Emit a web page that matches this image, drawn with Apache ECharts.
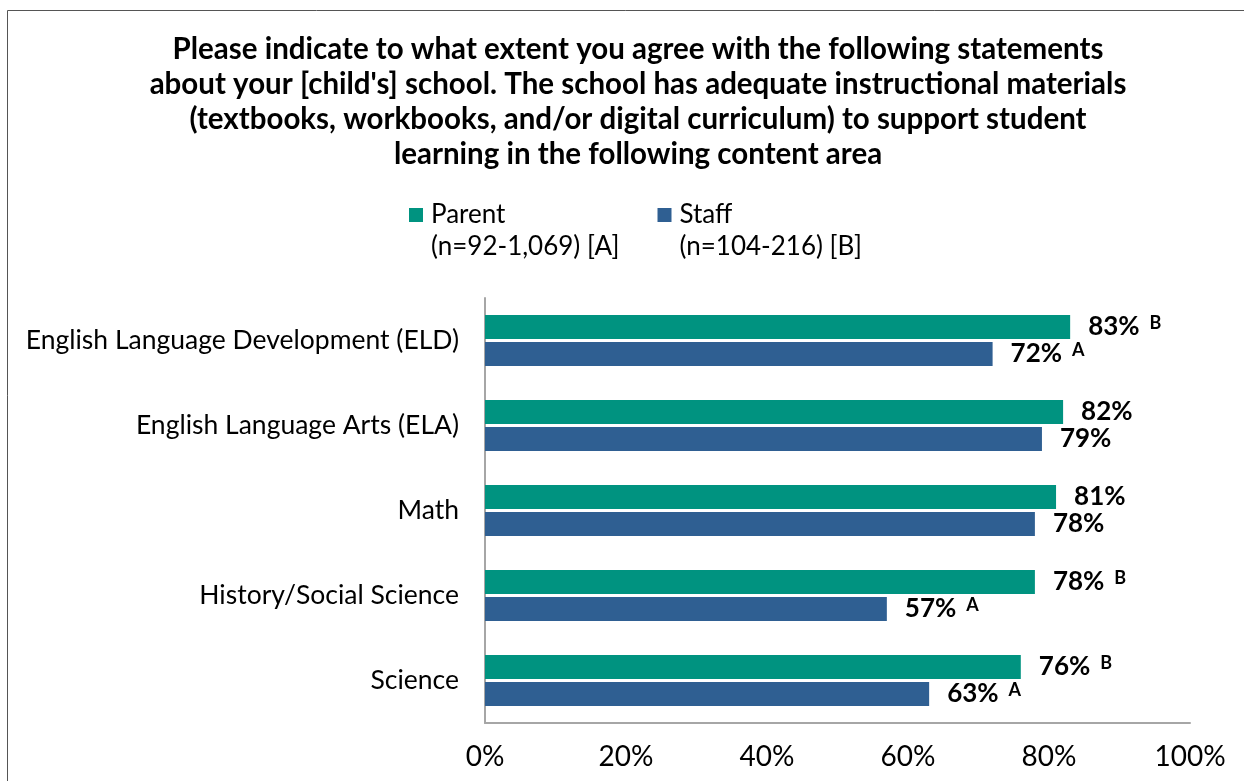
<!DOCTYPE html>
<html>
<head>
<meta charset="utf-8">
<script src="https://cdn.jsdelivr.net/npm/echarts@6/dist/echarts.min.js"></script>
<style>
  html, body { margin: 0; padding: 0; background: #fff; }
  #chart { width: 1244px; height: 781px; }
</style>
</head>
<body>
<div id="chart"></div>
<script>
// Content areas, top to bottom
const categories = [
  'English Language Development (ELD)',
  'English Language Arts (ELA)',
  'Math',
  'History/Social Science',
  'Science'
];
// Percent agreeing
const parentValues = [83, 82, 81, 78, 76];
const staffValues = [72, 79, 78, 57, 63];
// Significance markers (difference vs. the other group)
const parentSig = ['B', '', '', 'B', 'B'];
const staffSig = ['A', '', '', 'A', 'A'];
const xTicks = [0, 20, 40, 60, 80, 100];

const parentName = 'Parent\n(n=92-1,069) [A]';
const staffName = 'Staff\n(n=104-216) [B]';

const titleText = 'Please indicate to what extent you agree with the following statements\n' +
  "about your [child's] school. The school has adequate instructional materials\n" +
  '(textbooks, workbooks, and/or digital curriculum) to support student\n' +
  'learning in the following content area';

const FONT = 'Lato, "Noto Sans", sans-serif';
const NARROW = '"Liberation Sans Narrow", "Arial Narrow", Lato, sans-serif';

function labelFor(sig) {
  return {
    show: true,
    position: 'right',
    distance: 18,
    formatter: (p) => {
      const s = sig[p.dataIndex];
      return s ? '{v|' + p.value + '%}{s|' + s + '}' : '{v|' + p.value + '%}';
    },
    rich: {
      v: { fontFamily: FONT, fontSize: 26, fontWeight: 'bold', color: '#000' },
      s: { fontFamily: FONT, fontSize: 18, fontWeight: 'bold', color: '#000', padding: [0, 0, 8, 10] }
    }
  };
}

const chart = echarts.init(document.getElementById('chart'));
chart.setOption({
  backgroundColor: '#fff',
  animation: false,
  title: {
    text: titleText,
    left: 633,
    top: 27,
    textAlign: 'center',
    textStyle: {
      fontFamily: FONT,
      fontSize: 29.5,
      fontWeight: 'bold',
      color: '#000',
      lineHeight: 35
    }
  },
  legend: {
    data: [parentName, staffName],
    left: 409,
    top: 167,
    padding: 0,
    icon: 'rect',
    itemWidth: 14,
    itemHeight: 14,
    itemGap: 38,
    // a blank first line keeps the marker level with the series name
    formatter: (name) => ' \n' + name,
    textStyle: {
      fontFamily: FONT,
      fontSize: 26,
      color: '#000',
      lineHeight: 32,
      padding: [0, 0, 0, 3]
    }
  },
  graphic: [
    {
      type: 'polyline',
      shape: { points: [[7.5, 781], [7.5, 10.5], [1244, 10.5]] },
      style: { stroke: '#555', lineWidth: 1, fill: null }
    }
  ],
  grid: { left: 485, right: 54, top: 298, bottom: 58, containLabel: false },
  xAxis: {
    type: 'value',
    min: xTicks[0],
    max: xTicks[xTicks.length - 1],
    interval: 20,
    axisLine: { show: true, lineStyle: { color: '#A6A6A6', width: 2 } },
    axisTick: { show: false },
    splitLine: { show: false },
    axisLabel: {
      formatter: '{value}%',
      fontFamily: NARROW,
      fontSize: 28,
      color: '#000',
      margin: 20
    }
  },
  yAxis: {
    type: 'category',
    data: categories,
    inverse: true,
    axisLine: { show: true, lineStyle: { color: '#A6A6A6', width: 2 } },
    axisTick: { show: false },
    axisLabel: {
      fontFamily: FONT,
      fontSize: 26.5,
      color: '#000',
      margin: 26
    }
  },
  series: [
    {
      name: parentName,
      type: 'bar',
      data: parentValues,
      barWidth: 24,
      barGap: '12%',
      itemStyle: { color: '#009380' },
      label: labelFor(parentSig)
    },
    {
      name: staffName,
      type: 'bar',
      data: staffValues,
      barWidth: 24,
      barGap: '12%',
      itemStyle: { color: '#2F5F92' },
      label: labelFor(staffSig)
    }
  ]
});
</script>
</body>
</html>
